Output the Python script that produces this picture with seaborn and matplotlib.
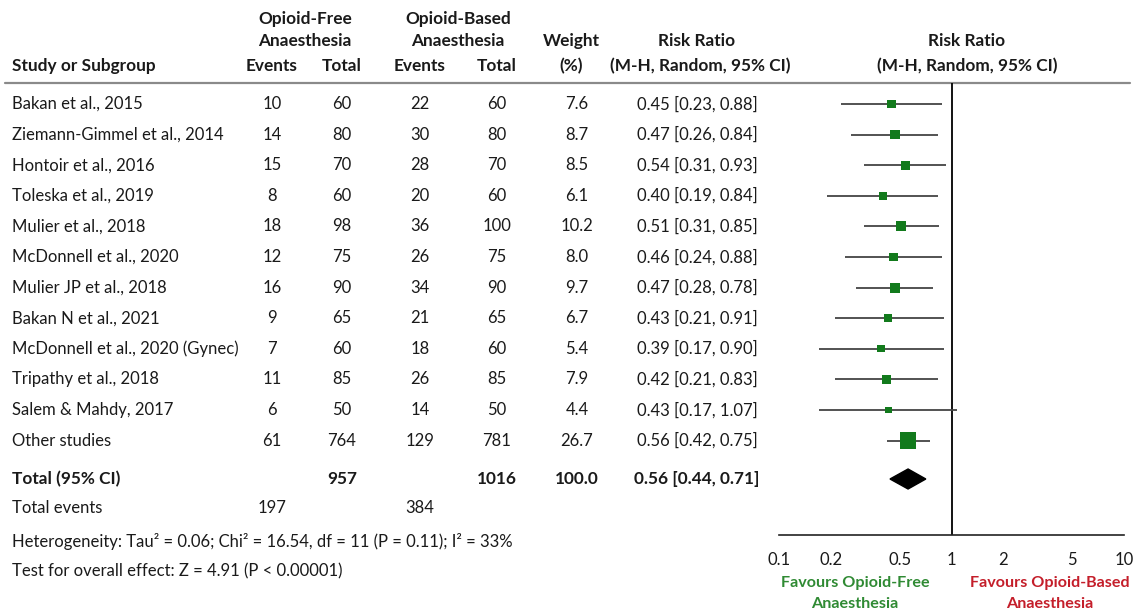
import numpy as np
import pandas as pd
import matplotlib
matplotlib.use("Agg")
import matplotlib.pyplot as plt
import seaborn as sns

sns.set_theme(style="white")
plt.rcParams['font.family'] = ['Lato', 'DejaVu Sans']

# ---- data ----
studies = ["Bakan et al., 2015", "Ziemann-Gimmel et al., 2014", "Hontoir et al., 2016",
           "Toleska et al., 2019", "Mulier et al., 2018", "McDonnell et al., 2020",
           "Mulier JP et al., 2018", "Bakan N et al., 2021", "McDonnell et al., 2020 (Gynec)",
           "Tripathy et al., 2018", "Salem & Mahdy, 2017", "Other studies"]
ofa_events = [10, 14, 15, 8, 18, 12, 16, 9, 7, 11, 6, 61]
ofa_total = [60, 80, 70, 60, 98, 75, 90, 65, 60, 85, 50, 764]
oba_events = [22, 30, 28, 20, 36, 26, 34, 21, 18, 26, 14, 129]
oba_total = [60, 80, 70, 60, 100, 75, 90, 65, 60, 85, 50, 781]
weight = [7.6, 8.7, 8.5, 6.1, 10.2, 8.0, 9.7, 6.7, 5.4, 7.9, 4.4, 26.7]
rr = [0.45, 0.47, 0.54, 0.40, 0.51, 0.46, 0.47, 0.43, 0.39, 0.42, 0.43, 0.56]
rr_lo = [0.23, 0.26, 0.31, 0.19, 0.31, 0.24, 0.28, 0.21, 0.17, 0.21, 0.17, 0.42]
rr_hi = [0.88, 0.84, 0.93, 0.84, 0.85, 0.88, 0.78, 0.91, 0.90, 0.83, 1.07, 0.75]

total_ofa, total_oba = 957, 1016
events_ofa, events_oba = 197, 384
total_weight = 100.0
pooled = [0.44, 0.56, 0.71]  # lower, estimate, upper

heterogeneity = "Heterogeneity: Tau² = 0.06; Chi² = 16.54, df = 11 (P = 0.11); I² = 33%"
overall = "Test for overall effect: Z = 4.91 (P < 0.00001)"
xticks = [0.1, 0.2, 0.5, 1, 2, 5, 10]
xticklabels = ["0.1", "0.2", "0.5", "1", "2", "5", "10"]

df = pd.DataFrame({"study": studies, "rr": rr, "lo": rr_lo, "hi": rr_hi, "w": weight})

# ---- layout (pixel coords) ----
W, H = 1135, 615
df["y"] = 104 + 30.6 * np.arange(len(df))
y_total, y_events, y_het, y_test = 479, 508, 541, 571
GREEN = "#127a1c"
FS = 12
FSB = 12.4

fig = plt.figure(figsize=(W / 100, H / 100), dpi=100)
tax = fig.add_axes([0, 0, 1, 1])
tax.set_xlim(0, W)
tax.set_ylim(H, 0)
tax.axis("off")

cols = {"ofa_e": 272, "ofa_t": 342, "oba_e": 420, "oba_t": 497, "w": 577, "rr": 697}

def t(x, y, s, ha="center", bold=False, color="#1a1a1a", size=None):
    if size is None:
        size = FSB if bold else FS
    tax.text(x, y, s, ha=ha, va="center", fontsize=size,
             fontweight="bold" if bold else "normal", color=color)

# header
t(305, 19, "Opioid-Free", bold=True)
t(305, 41, "Anaesthesia", bold=True)
t(458, 19, "Opioid-Based", bold=True)
t(458, 41, "Anaesthesia", bold=True)
t(12, 66, "Study or Subgroup", ha="left", bold=True)
for k in ["ofa_e", "oba_e"]:
    t(cols[k], 66, "Events", bold=True)
for k in ["ofa_t", "oba_t"]:
    t(cols[k], 66, "Total", bold=True)
t(571, 41, "Weight", bold=True)
t(571, 66, "(%)", bold=True)
t(cols["rr"], 41, "Risk Ratio", bold=True)
t(cols["rr"] + 3, 66, "(M-H, Random, 95% CI)", bold=True)
t(967, 41, "Risk Ratio", bold=True)
t(967, 66, "(M-H, Random, 95% CI)", bold=True)
tax.plot([5, 1130], [83, 83], color="#8a8a8a", lw=1.6)

# study rows
for i, r in df.iterrows():
    y = r["y"]
    t(12, y, r["study"], ha="left")
    t(cols["ofa_e"], y, str(ofa_events[i]))
    t(cols["ofa_t"], y, str(ofa_total[i]))
    t(cols["oba_e"], y, str(oba_events[i]))
    t(cols["oba_t"], y, str(oba_total[i]))
    t(cols["w"], y, f"{r['w']:.1f}")
    t(cols["rr"], y, f"{r['rr']:.2f} [{r['lo']:.2f}, {r['hi']:.2f}]")

# totals
t(12, y_total, "Total (95% CI)", ha="left", bold=True)
t(cols["ofa_t"], y_total, str(total_ofa), bold=True)
t(cols["oba_t"], y_total, str(total_oba), bold=True)
t(cols["w"], y_total, f"{total_weight:.1f}", bold=True)
t(cols["rr"], y_total, f"{pooled[1]:.2f} [{pooled[0]:.2f}, {pooled[2]:.2f}]", bold=True)
t(12, y_events, "Total events", ha="left")
t(cols["ofa_e"], y_events, str(events_ofa))
t(cols["oba_e"], y_events, str(events_oba))
t(12, y_het, heterogeneity, ha="left")
t(12, y_test, overall, ha="left")

t(855, 583, "Favours Opioid-Free", bold=True, color="#2f8a33", size=11.6)
t(855, 604, "Anaesthesia", bold=True, color="#2f8a33", size=11.6)
t(1050, 583, "Favours Opioid-Based", bold=True, color="#c41e2a", size=11.6)
t(1050, 604, "Anaesthesia", bold=True, color="#c41e2a", size=11.6)

# ---- forest panel ----
x0, x1, ytop, ybot = 779, 1124, 83, 535
ax = fig.add_axes([x0 / W, 1 - ybot / H, (x1 - x0) / W, (ybot - ytop) / H])
ax.patch.set_alpha(0)
ax.set_xscale("log")
ax.set_xlim(0.1, 10)
ax.set_ylim(ybot, ytop)

ax.hlines(df["y"], df["lo"], df["hi"], color="#444444", lw=1.3, zorder=2)
sns.scatterplot(data=df, x="rr", y="y", size="w", sizes=(22, 140), marker="s",
                color=GREEN, edgecolor=GREEN, linewidth=0, legend=False, ax=ax, zorder=3)

dl, dm, du = pooled
ax.fill([dl, dm, du, dm], [y_total, y_total - 10, y_total, y_total + 10],
        color="black", zorder=3)
ax.axvline(1, color="black", lw=1.3, zorder=1)

ax.set_xticks(xticks)
ax.set_xticklabels(xticklabels, fontsize=FS)
ax.minorticks_off()
ax.tick_params(axis="x", direction="inout", length=8, width=1, pad=8, colors="#1a1a1a")
ax.set_yticks([])
ax.set_xlabel("")
ax.set_ylabel("")
for s in ["top", "left", "right"]:
    ax.spines[s].set_visible(False)
ax.spines["bottom"].set_color("#222222")
ax.spines["bottom"].set_linewidth(1.2)

fig.savefig("out.png", dpi=100)
